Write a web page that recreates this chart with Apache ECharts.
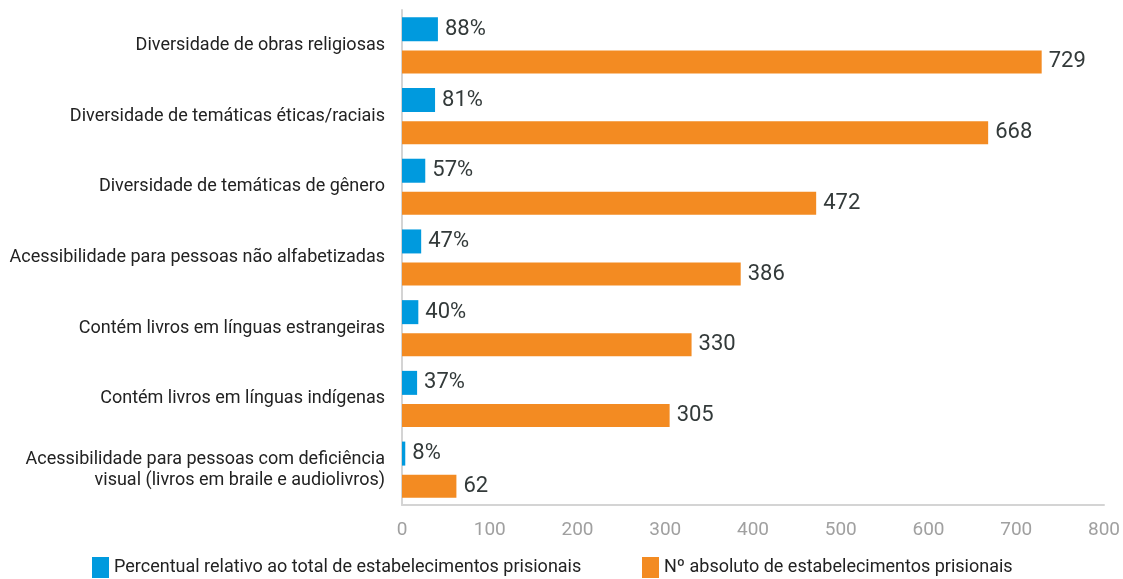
<!DOCTYPE html>
<html>
<head>
<meta charset="utf-8">
<script src="https://cdn.jsdelivr.net/npm/echarts@6/dist/echarts.min.js"></script>
<style>
  html, body { margin: 0; padding: 0; background: #fff; }
  #chart { width: 1123px; height: 579px; }
</style>
</head>
<body>
<div id="chart"></div>
<script>
const categories = [
  "Diversidade de obras religiosas",
  "Diversidade de temáticas éticas/raciais",
  "Diversidade de temáticas de gênero",
  "Acessibilidade para pessoas não alfabetizadas",
  "Contém livros em línguas estrangeiras",
  "Contém livros em línguas indígenas",
  "Acessibilidade para pessoas com deficiência\nvisual (livros em braile e audiolivros)",
];
const percentValues = [88, 81, 57, 47, 40, 37, 8];
const absoluteValues = [729, 668, 472, 386, 330, 305, 62];
const xTicks = { min: 0, max: 800, interval: 100 };
const percentAxisMax = 1720;

const seriesNames = [
  "Percentual relativo ao total de estabelecimentos prisionais",
  "Nº absoluto de estabelecimentos prisionais",
];

const textDark = "#333a3a";
const font = "Roboto, 'Noto Sans', sans-serif";

function legendAt(name, left) {
  return {
    data: [name],
    left,
    top: 557,
    padding: 0,
    itemWidth: 17,
    itemHeight: 21,
    icon: "rect",
    textStyle: { color: "#222", fontSize: 18, fontFamily: font },
  };
}

const chart = echarts.init(document.getElementById("chart"), null, { renderer: "canvas" });
chart.setOption({
  animation: false,
  textStyle: { fontFamily: font },
  grid: { left: 402, right: 19, top: 10, bottom: 74 },
  legend: [legendAt(seriesNames[0], 92), legendAt(seriesNames[1], 642)],
  xAxis: [
    {
      type: "value",
      min: xTicks.min,
      max: xTicks.max,
      interval: xTicks.interval,
      axisLine: { show: true, lineStyle: { color: "#d4d4d4", width: 2 } },
      axisTick: { show: false },
      splitLine: { show: false },
      axisLabel: { color: "#a0a0a0", fontSize: 19, margin: 16 },
    },
    {
      type: "value",
      min: 0,
      max: percentAxisMax,
      show: false,
    },
  ],
  yAxis: {
    type: "category",
    inverse: true,
    data: categories,
    axisLine: { show: true, lineStyle: { color: "#d4d4d4", width: 2 } },
    axisTick: { show: false },
    axisLabel: {
      color: "#222",
      fontSize: 18,
      margin: 17,
      align: "right",
      lineHeight: 21,
    },
  },
  series: [
    {
      name: seriesNames[0],
      type: "bar",
      xAxisIndex: 1,
      data: percentValues,
      barWidth: 24,
      barGap: "38%",
      itemStyle: { color: "#009ade" },
      label: {
        show: true,
        position: "right",
        distance: 7,
        formatter: (p) => p.value + "%",
        color: textDark,
        fontSize: 22,
      },
    },
    {
      name: seriesNames[1],
      type: "bar",
      xAxisIndex: 0,
      data: absoluteValues,
      barWidth: 23,
      itemStyle: { color: "#f38b22" },
      label: {
        show: true,
        position: "right",
        distance: 7,
        color: textDark,
        fontSize: 22,
      },
    },
  ],
});
</script>
</body>
</html>
